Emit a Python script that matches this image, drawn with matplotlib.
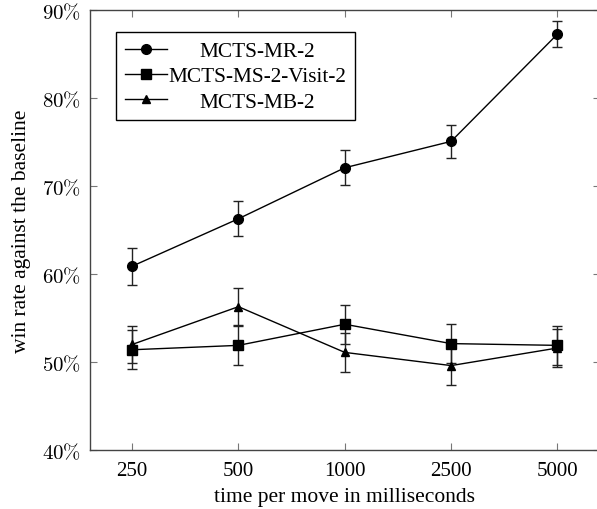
import matplotlib
matplotlib.use("Agg")
import matplotlib.pyplot as plt
from matplotlib.ticker import FuncFormatter
from matplotlib.lines import Line2D

times = ["250", "500", "1000", "2500", "5000"]
mr = [60.9, 66.3, 72.1, 75.1, 87.3]
mr_err = [2.1, 2.0, 2.0, 1.9, 1.5]
ms = [51.4, 51.9, 54.3, 52.1, 51.9]
ms_err = [2.2, 2.2, 2.2, 2.2, 2.2]
mb = [52.0, 56.3, 51.1, 49.6, 51.6]
mb_err = [2.15, 2.1, 2.2, 2.2, 2.2]
labels = ["MCTS-MR-2", "MCTS-MS-2-Visit-2", "MCTS-MB-2"]
yticks = [40, 50, 60, 70, 80, 90]

plt.rcParams['font.family'] = ['Liberation Serif', 'DejaVu Serif']
plt.rcParams['mathtext.fontset'] = 'cm'

fig = plt.figure(figsize=(5.97, 5.10), dpi=100)
ax = fig.add_axes([0.150, 0.1157, 0.855, 0.862])

x = list(range(len(times)))
markers = ['o', 's', '^']
msizes = [7, 6.5, 5.5]
common = dict(color='black', linewidth=1.0, elinewidth=1.0, capsize=3.5, capthick=1.0, ecolor='#222222')
for vals, errs, m, s in zip([mr, ms, mb], [mr_err, ms_err, mb_err], markers, msizes):
    ax.errorbar(x, vals, yerr=errs, marker=m, markersize=s, **common)

ax.set_xlim(-0.4, 4.4)
ax.set_ylim(40, 90)
ax.set_xticks(x)
ax.set_xticklabels(times, fontsize=15)
ax.set_yticks(yticks)
ax.yaxis.set_major_formatter(FuncFormatter(lambda v, p: r"$%d\%%$" % v))
ax.tick_params(direction='in', length=5, width=0.8, color='#777777', top=True, right=True)
ax.tick_params(axis='x', pad=8)
ax.tick_params(axis='y', labelsize=15, pad=6)
for sp in ax.spines.values():
    sp.set_linewidth(1.0)
    sp.set_color('#444444')

ax.set_xlabel("time per move in milliseconds", fontsize=15.5, labelpad=5)
ax.set_ylabel("win rate against the baseline", fontsize=15.5, labelpad=8)

handles = [Line2D([], [], color='black', linewidth=1.0, marker=m, markersize=s)
           for m, s in zip(markers, msizes)]
leg = ax.legend(handles, labels, loc='upper left',
                bbox_to_anchor=(0.051, 0.95), fontsize=15.3,
                frameon=True, fancybox=False, edgecolor='black', framealpha=1,
                borderaxespad=0, handlelength=2.0, handletextpad=0.05, labelspacing=0.25,
                borderpad=0.42)
leg.get_frame().set_linewidth(1.0)

# centre the legend labels within the text column
fig.canvas.draw()
renderer = fig.canvas.get_renderer()
widths = [t.get_window_extent(renderer).width for t in leg.get_texts()]
wmax = max(widths)
for t, w in zip(leg.get_texts(), widths):
    t.set_x((wmax - w) / 2.0)

fig.savefig("out.png", dpi=100)
